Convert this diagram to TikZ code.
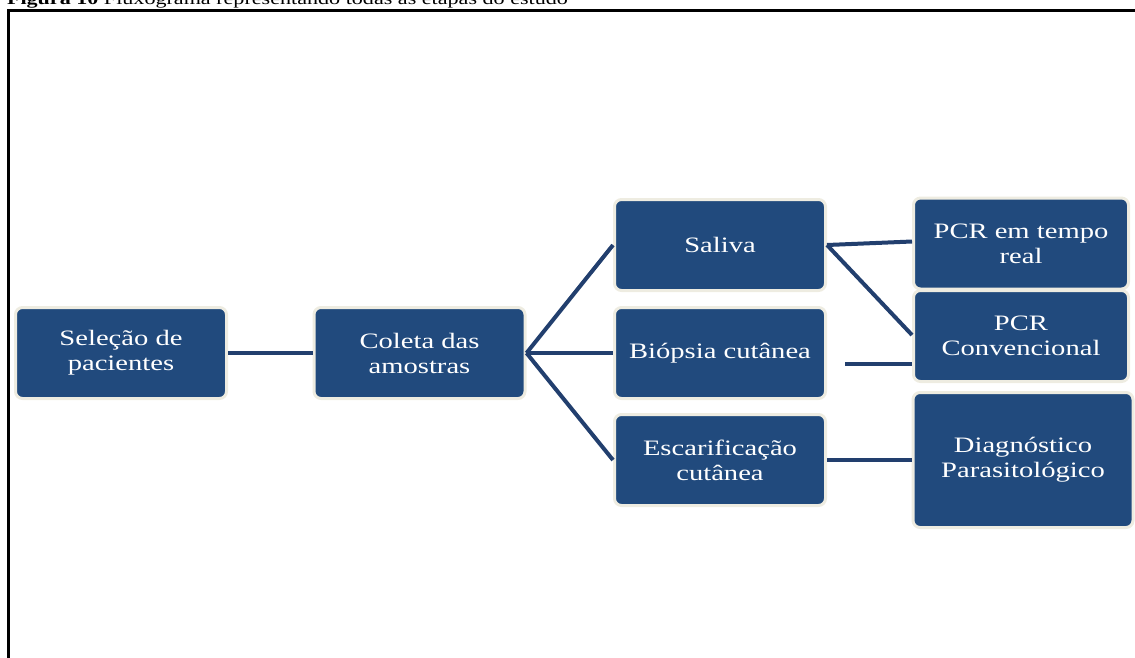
\documentclass[tikz,border=0pt]{standalone}
\usepackage{fontspec}
\setmainfont{Liberation Serif}[FakeStretch=1.3]
\definecolor{boxblue}{HTML}{214A7D}
\definecolor{linkblue}{HTML}{223F6E}
\definecolor{cream}{HTML}{EEECE1}
\begin{document}
\begin{tikzpicture}[x=1pt, y=-1pt, line width=4pt,
  box/.style={rectangle, rounded corners=7pt, draw=cream, line width=3pt, fill=boxblue, text=white, align=center, inner sep=2pt, minimum width=211pt, minimum height=91pt, font=\fontsize{22}{25}\selectfont}]%
\useasboundingbox (0,0) rectangle (1135,657);
% frame and caption
\draw[line width=3pt] (8,700) -- (8,10) -- (1200,10);
\node[anchor=base west, inner sep=0pt, font=\fontsize{17}{19}\selectfont] (caption) at (5,4) {\textbf{Figura 10} Fluxograma representando todas as etapas do estudo};
\begin{scope}
\node[box] (sel) at (121,353) {Seleção de\\pacientes};
\node[box] (col) at (419.5,353) {Coleta das\\amostras};
\node[box] (sal) at (720,245) {Saliva};
\node[box] (bio) at (720,353) {Biópsia cutânea};
\node[box] (esc) at (720,460) {Escarificação\\cutânea};
\node[box, minimum width=215pt] (pcrt) at (1021,243.5) {PCR em tempo\\real};
\node[box, minimum width=215pt] (pcrc) at (1021,336) {PCR\\Convencional};
\node[box, minimum width=220pt, minimum height=135pt] (diag) at (1023,460) {Diagnóstico\\Parasitológico};
\end{scope}
\coordinate (gap) at (845,364);
\begin{scope}[every edge/.style={draw=linkblue, line width=4pt}]
\draw (sel.east) edge (col.west);
\draw (col.east) edge (sal.west);
\draw (col.east) edge (bio.west);
\draw (col.east) edge (esc.west);
\draw (sal.east) edge ([yshift=2pt]pcrt.west);
\draw (sal.east) edge ([yshift=1pt]pcrc.west);
\draw (gap) edge (pcrc.west|-gap);
\draw (esc.east) edge (diag.west);
\end{scope}
\end{tikzpicture}
\end{document}
